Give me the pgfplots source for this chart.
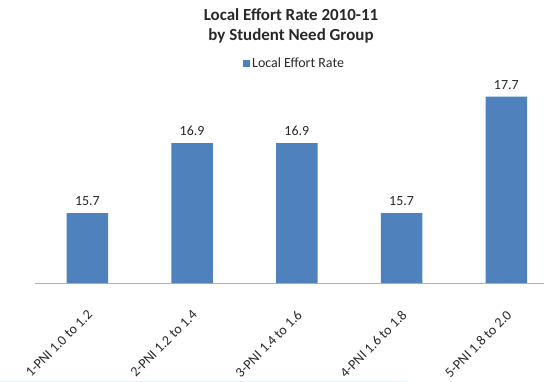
\documentclass[border=0pt]{standalone}
\usepackage{pgfplots}
\pgfplotsset{compat=1.18}
\usepackage{fontspec}
\setmainfont{Carlito}
\definecolor{barblue}{RGB}{79,129,189}
\definecolor{txt}{RGB}{40,40,40}
\begin{document}
\begin{tikzpicture}
\useasboundingbox (0,0) rectangle (544bp,382bp);
\begin{axis}[
  scale only axis,
  anchor=south west,
  at={(35bp,99bp)},
  width=509bp, height=215.5bp,
  xmin=-0.5, xmax=4.36,
  ymin=14.5, ymax=18.2,
  clip=false,
  axis y line=none,
  axis x line*=bottom,
  x axis line style={draw=black!30, line width=0.8bp, -},
  xtick={0,1,2,3,4},
  xticklabels={1-PNI 1.0 to 1.2,2-PNI 1.2 to 1.4,3-PNI 1.4 to 1.6,4-PNI 1.6 to 1.8,5-PNI 1.8 to 2.0},
  major tick length=0pt,
  xticklabel style={rotate=45, anchor=north east, font=\fontsize{14}{16}\selectfont, text=txt, inner sep=1bp, xshift=-18bp, yshift=-17bp},
  ybar, bar width=0.396, bar shift=0pt,
  nodes near coords,
  /pgf/number format/assume math mode=true,
  nodes near coords style={font=\fontsize{14}{16}\selectfont, text=txt, inner sep=0pt, anchor=south, yshift=7bp, /pgf/number format/.cd, fixed, fixed zerofill, precision=1, assume math mode=true},
  legend style={at={(axis description cs:0.51,1.02)}, anchor=center, draw=none, fill=none, font=\fontsize{14}{16}\selectfont, text=txt, inner sep=0pt},
  legend image code/.code={\fill[barblue] (-3bp,-3.5bp) rectangle (4bp,3.5bp);},
]
\addplot[fill=barblue, draw=none] coordinates {(0,15.7) (1,16.9) (2,16.9) (3,15.7) (4,17.7)};
\addlegendentry{Local Effort Rate}
\end{axis}
\node[font=\bfseries\fontsize{17}{20}\selectfont, text=txt, align=center, anchor=north] at (291bp,382bp-5bp) {Local Effort Rate 2010-11\\by Student Need Group};
\draw[cyan!12, line width=1bp] (0,0.5bp) -- (408bp,0.5bp);
\end{tikzpicture}
\end{document}
